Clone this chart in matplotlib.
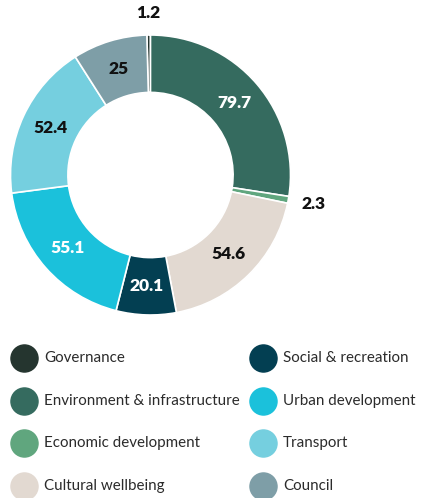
import numpy as np
import matplotlib.pyplot as plt

categories = ['Governance', 'Environment & infrastructure', 'Economic development',
              'Cultural wellbeing', 'Social & recreation', 'Urban development',
              'Transport', 'Council']
values = [1.2, 79.7, 2.3, 54.6, 20.1, 55.1, 52.4, 25]
colors = ['#25352f', '#356b5f', '#60a67e', '#e2d9d1', '#033f52', '#1bc1db', '#75cfdf', '#7e9ea7']
label_colors = ['#111111', 'white', '#111111', '#111111', 'white', 'white', '#111111', '#111111']
outside = [True, False, True, False, False, False, False, False]

plt.rcParams['font.family'] = ['Lato', 'DejaVu Sans']

W, H = 423, 498
fig = plt.figure(figsize=(W / 100, H / 100), dpi=100)
cx, cy, R = 150.5, 175, 140
ax = fig.add_axes([(cx - R) / W, (H - cy - R) / H, 2 * R / W, 2 * R / H])

total = sum(values)
start = 90 + values[0] / total * 360
wedges, _ = ax.pie(values, colors=colors, startangle=start, counterclock=False, radius=1,
                   wedgeprops=dict(width=0.41, edgecolor='white', linewidth=1.2))
ax.set_xlim(-1, 1)
ax.set_ylim(-1, 1)
ax.set_aspect('equal')
ax.axis('off')

for w, v, c, out in zip(wedges, values, label_colors, outside):
    ang = np.deg2rad((w.theta1 + w.theta2) / 2)
    r = 1.16 if out else 0.79
    x, y = r * np.cos(ang), r * np.sin(ang)
    if out:
        x += 0.02 if x > 0.1 else 0
    ax.text(x, y, f'{v:g}', ha='center', va='center', fontsize=12.5,
            fontweight='heavy', color=c)

# legend, two columns
rows_y = [357.5, 400.5, 443, 486]
col_x = [24, 263]
for i, (name, col) in enumerate(zip(categories, colors)):
    c, r = divmod(i, 4)
    mx, my = col_x[c] / W, 1 - rows_y[r] / H
    fig.add_artist(plt.Line2D([mx], [my], marker='o', markersize=19.5, color=col,
                              linestyle='none', transform=fig.transFigure))
    fig.text(mx + 20 / W, my, name, ha='left', va='center', fontsize=10.9,
             color='#2b2b2b', fontweight='normal')

fig.savefig('out.png', dpi=100)
